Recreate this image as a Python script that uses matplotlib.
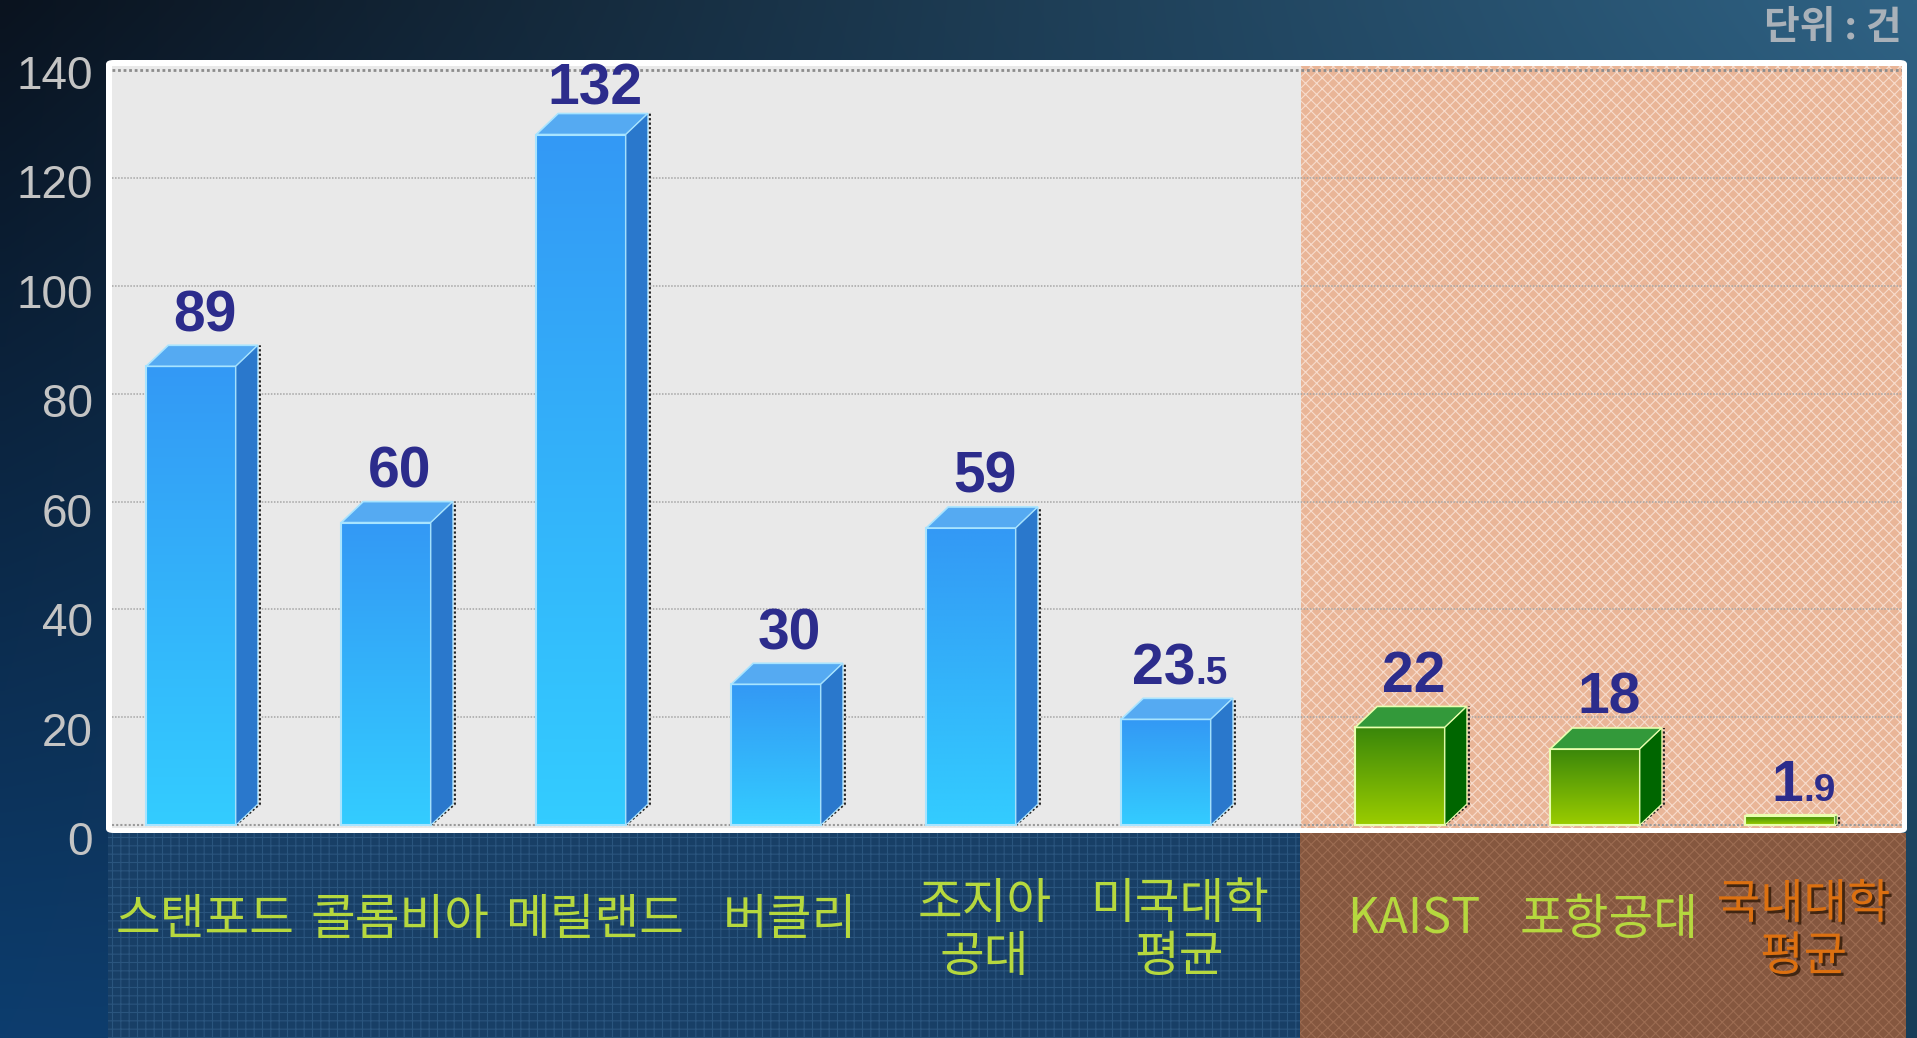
import numpy as np
import matplotlib
matplotlib.use("Agg")
import matplotlib.pyplot as plt
from matplotlib.patches import Rectangle, Polygon, FancyBboxPatch
from matplotlib.colors import LinearSegmentedColormap
from matplotlib.transforms import blended_transform_factory
from matplotlib import patheffects as pe

plt.rcParams['font.family'] = ['Noto Sans CJK KR', 'DejaVu Sans']
plt.rcParams['hatch.linewidth'] = 0.8

# data
schools = ['스탠포드', '콜롬비아', '메릴랜드', '버클리', '조지아\n공대', '미국대학\n평균',
           'KAIST', '포항공대', '국내대학\n평균']
counts = [89, 60, 132, 30, 59, 23.5, 22, 18, 1.9]
count_labels = ['89', '60', '132', '30', '59', '23.5', '22', '18', '1.9']
domestic = [False, False, False, False, False, False, True, True, True]
y_ticks = [0, 20, 40, 60, 80, 100, 120, 140]
unit_text = '단위 : 건'

W, H = 1917, 1038
fig = plt.figure(figsize=(W / 100, H / 100), dpi=100)


def fx(px):
    return px / W


def fy(py):
    return 1 - py / H


def rgb(h):
    return np.array([int(h[i:i + 2], 16) for i in (1, 3, 5)]) / 255


# background gradient
bg = fig.add_axes([0, 0, 1, 1], zorder=-10)
bg.axis('off')
tl, tr, bl, br = map(rgb, ['#0a131f', '#2f6284', '#0d3d6e', '#173d58'])
u = np.linspace(0, 1, 200)[None, :, None]
v = np.linspace(0, 1, 120)[:, None, None]
img = (1 - v) * ((1 - u) * tl + u * tr) + v * ((1 - u) * bl + u * br)
bg.imshow(img, aspect='auto', extent=[0, 1, 0, 1], origin='upper', interpolation='bilinear')
bg.set_xlim(0, 1)
bg.set_ylim(0, 1)

# white frame
bg.add_patch(FancyBboxPatch((fx(106), fy(833)), fx(1907) - fx(106), fy(60) - fy(833),
                            boxstyle='round,pad=0,rounding_size=0.004', fc='white', ec='none'))
# bottom label bands
bg.add_patch(Rectangle((fx(108), 0), fx(1300) - fx(108), fy(833), fc='#183f66',
                       ec='#2a557e', hatch='++', lw=0))
bg.add_patch(Rectangle((fx(1300), 0), fx(1906) - fx(1300), fy(833), fc='#85573f',
                       ec='#9c6c52', hatch='xxx', lw=0))

# main plot area
x_unit, x_origin = 195.0, 191.0
px_per_val, y_zero = 5.39, 825.0
ax = fig.add_axes([fx(112), fy(828), fx(1902) - fx(112), fy(66) - fy(828)])
ax.set_facecolor('#e9e9e9')
xmin, xmax = (112 - x_origin) / x_unit, (1902 - x_origin) / x_unit
ymin, ymax = (y_zero - 828) / px_per_val, (y_zero - 66) / px_per_val
for s in ax.spines.values():
    s.set_visible(False)
ax.set_xticks([])
ax.set_yticks([])

xpos = np.arange(len(schools)) + np.where(domestic, 0.2, 0.0)
split = 5.69
ax.axvspan(split, xmax, facecolor='#e9b597', edgecolor='#f7dccd', hatch='xxx', lw=0, zorder=0.5)

for t in y_ticks[1:]:
    ax.axhline(t, color='#8c8c8c' if t == 140 else '#a5a5a5', ls=(0, (1, 1)),
               lw=2 if t == 140 else 1.1, zorder=1)
ax.axhline(0, color='#9a9a9a', ls=(0, (1, 1)), lw=1.5, zorder=1)

bw, dx, dy = 0.46, 0.113, 21 / px_per_val
blue_cm = LinearSegmentedColormap.from_list('b', ['#33ccff', '#3399f5'])
green_cm = LinearSegmentedColormap.from_list('g', ['#9acc00', '#3a870a'])
grad = np.linspace(0, 1, 100)[:, None]

for i, (xc, val) in enumerate(zip(xpos, counts)):
    dom = domestic[i]
    big = val > 2 * dy
    d = dy if big else val * 0.1
    ddx = dx if big else dx * 0.1
    x0, x1 = xc - bw / 2, xc + bw / 2
    ftop = val - d
    ax.imshow(grad, extent=[x0, x1, 0, ftop], origin='lower', aspect='auto',
              cmap=green_cm if dom else blue_cm, zorder=3, interpolation='bilinear')
    edge = '#eaffb0' if dom else '#a8e4ff'
    ax.add_patch(Rectangle((x0, 0), bw, ftop, fill=False, ec=edge, lw=1.5, zorder=4))
    ax.add_patch(Polygon([(x0, ftop), (x1, ftop), (x1 + ddx, val), (x0 + ddx, val)],
                         fc='#33993a' if dom else '#55aaf2', ec=edge, lw=1.2, zorder=4))
    ax.add_patch(Polygon([(x1, 0), (x1 + ddx, d), (x1 + ddx, val), (x1, ftop)],
                         fc='#006600' if dom else '#2a78cc', ec=edge, lw=0.8, zorder=4))
    # dotted shadow
    sx = x1 + ddx + 0.01
    ax.plot([x1, sx, sx], [0, d, val], ls=(0, (1, 1)), color='#222222', lw=1.6, zorder=2)

ax.set_xlim(xmin, xmax)
ax.set_ylim(ymin, ymax)

# value labels with smaller decimals
fig.canvas.draw()
renderer = fig.canvas.get_renderer()
units_per_px = 1.0 / (ax.transData.transform((1, 0))[0] - ax.transData.transform((0, 0))[0])
for xc, val, lab in zip(xpos, counts, count_labels):
    ip, _, dp = lab.partition('.')
    ty = min(val + 2.6, 133.6)  # keep the tallest label inside the frame
    t1 = ax.text(xc, ty, ip, ha='left', va='baseline', fontsize=41, fontweight='bold',
                 color='#2c2c8c', family='Liberation Sans', zorder=6)
    parts = [t1]
    if dp:
        t2 = ax.text(xc, ty, '.' + dp, ha='left', va='baseline', fontsize=28,
                     fontweight='bold', color='#2c2c8c', family='Liberation Sans', zorder=6)
        parts.append(t2)
    widths = [p.get_window_extent(renderer).width * units_per_px for p in parts]
    left = xc + 0.07 - sum(widths) / 2
    for p, w in zip(parts, widths):
        p.set_x(left)
        left += w

# category labels
trans = blended_transform_factory(ax.transData, fig.transFigure)
for i, (xc, name) in enumerate(zip(xpos, schools)):
    two = '\n' in name
    yy = fy(931) if two else fy(920)
    if name.startswith('국내'):
        ax.text(xc + 0.07, yy, name, transform=trans, ha='center', va='center',
                fontsize=34, fontweight='medium', color='#dc7010', linespacing=1.1,
                path_effects=[pe.withSimplePatchShadow(offset=(2, -2), shadow_rgbFace='#3a200c', alpha=0.9)])
    else:
        ax.text(xc + 0.07, yy, name, transform=trans, ha='center', va='center',
                fontsize=35, color='#b6d83e', linespacing=1.1)

# y tick labels (front plane)
lax = fig.add_axes([fx(112), fy(838), 0.001, fy(72) - fy(838)])
lax.patch.set_visible(False)
for s in lax.spines.values():
    s.set_visible(False)
lax.set_xticks([])
lax.set_ylim(0, 140)
lax.set_yticks(y_ticks)
lax.set_yticklabels([str(t) for t in y_ticks], family='Liberation Sans', fontsize=33, color='#c4c4c4')
lax.tick_params(axis='y', length=0, pad=14)

fig.text(fx(1902), fy(27), unit_text, ha='right', va='center', fontsize=28,
         fontweight='bold', color='#a9b1b9')

fig.savefig('out.png', dpi=100)
